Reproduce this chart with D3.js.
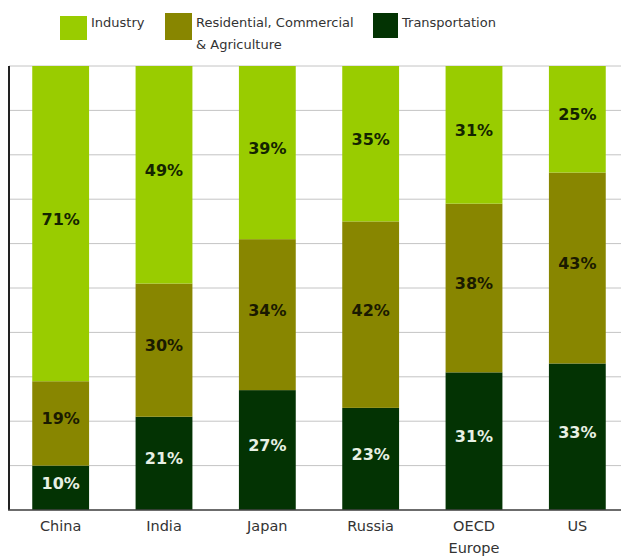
<!DOCTYPE html>
<html>
<head>
<meta charset="utf-8">
<script src="https://cdn.jsdelivr.net/npm/d3@7"></script>
<style>
  body { margin: 0; background: #fff; }
  svg { display: block; font-family: "DejaVu Sans", Verdana, sans-serif; }
</style>
</head>
<body>
<div id="chart"></div>
<script>
// Data
const countries = ['China', 'India', 'Japan', 'Russia', 'OECD Europe', 'US'];
const transportation = [10, 21, 27, 23, 31, 33];
const residential = [19, 30, 34, 42, 38, 43];
const industry = [71, 49, 39, 35, 31, 25];
const yTicks = [0, 10, 20, 30, 40, 50, 60, 70, 80, 90, 100];

const seriesKeys = ['transportation', 'residential', 'industry'];
const seriesNames = {
    industry: 'Industry',
    residential: 'Residential, Commercial\n& Agriculture',
    transportation: 'Transportation'
};
const colors = { industry: '#99cc00', residential: '#888600', transportation: '#033303' };
const labelColors = { industry: '#142400', residential: '#1a1a00', transportation: '#e8f0e4' };

const width = 621, height = 556;
const margin = { top: 66, left: 9, bottom: 46 };

// Build table rows for the stack layout
const table = countries.map((c, i) => ({
    country: c,
    transportation: transportation[i],
    residential: residential[i],
    industry: industry[i]
}));

const svg = d3.select('#chart').append('svg')
    .attr('width', width)
    .attr('height', height);

const x = d3.scaleBand()
    .domain(countries)
    .range([margin.left, 629])
    .paddingInner(0.45)
    .paddingOuter(0.225);

// clamp: US adds up to 101%, the bar stops at the frame top
const y = d3.scaleLinear()
    .domain([0, 100])
    .range([height - margin.bottom, margin.top])
    .clamp(true);

// Gridlines
svg.append('g')
    .selectAll('line')
    .data(yTicks)
    .enter()
    .append('line')
    .attr('x1', margin.left)
    .attr('x2', width)
    .attr('y1', d => y(d))
    .attr('y2', d => y(d))
    .attr('stroke', '#c4c4c4')
    .attr('stroke-width', 1);

// Stacked bars
const stack = d3.stack().keys(seriesKeys);
const layers = stack(table);

const layer = svg.append('g')
    .selectAll('g')
    .data(layers)
    .enter()
    .append('g')
    .attr('fill', d => colors[d.key]);

layer.selectAll('rect')
    .data(d => d)
    .enter()
    .append('rect')
    .attr('x', d => x(d.data.country))
    .attr('width', x.bandwidth())
    .attr('y', d => y(d[1]))
    .attr('height', d => y(d[0]) - y(d[1]));

// Value labels
layers.forEach(l => {
    svg.append('g')
        .selectAll('text')
        .data(l)
        .enter()
        .append('text')
        .attr('x', d => x(d.data.country) + x.bandwidth() / 2)
        .attr('y', d => (y(d[0]) + y(d[1])) / 2 + 1)
        .attr('text-anchor', 'middle')
        .attr('font-size', 16)
        .attr('font-weight', 'bold')
        .attr('fill', labelColors[l.key])
        .text(d => (d.data[l.key]) + '%');
});

// Axis lines
svg.append('line')
    .attr('x1', margin.left).attr('x2', margin.left)
    .attr('y1', y(100)).attr('y2', y(0))
    .attr('stroke', '#222').attr('stroke-width', 2);
svg.append('line')
    .attr('x1', margin.left - 1).attr('x2', width)
    .attr('y1', y(0)).attr('y2', y(0))
    .attr('stroke', '#444').attr('stroke-width', 1.5);

// Category labels
const xLabels = svg.append('g')
    .selectAll('text')
    .data(countries)
    .enter()
    .append('text')
    .attr('x', d => x(d) + x.bandwidth() / 2)
    .attr('y', y(0) + 21)
    .attr('text-anchor', 'middle')
    .attr('font-size', 14.5)
    .attr('fill', '#333');

xLabels.each(function (d) {
    const words = d === 'OECD Europe' ? ['OECD', 'Europe'] : [d];
    d3.select(this).selectAll('tspan')
        .data(words)
        .enter()
        .append('tspan')
        .attr('x', x(d) + x.bandwidth() / 2)
        .attr('dy', (w, i) => i === 0 ? 0 : 22)
        .text(w => w);
});

// Legend
const legendItems = [
    { key: 'industry', x: 60, w: 27, y: 16, h: 24 },
    { key: 'residential', x: 165, w: 27, y: 13, h: 27 },
    { key: 'transportation', x: 373, w: 25, y: 13, h: 25 }
];

const legend = svg.append('g')
    .selectAll('g')
    .data(legendItems)
    .enter()
    .append('g');

legend.append('rect')
    .attr('x', d => d.x)
    .attr('y', d => d.y)
    .attr('width', d => d.w)
    .attr('height', d => d.h)
    .attr('fill', d => colors[d.key]);

legend.append('text')
    .attr('x', d => d.x + d.w + 4)
    .attr('y', 27)
    .attr('font-size', 13)
    .attr('fill', '#333')
    .each(function (d) {
        const lines = seriesNames[d.key].split('\n');
        d3.select(this).selectAll('tspan')
            .data(lines)
            .enter()
            .append('tspan')
            .attr('x', d.x + d.w + 4)
            .attr('dy', (l, i) => i === 0 ? 0 : 22)
            .text(l => l);
    });
</script>
</body>
</html>
